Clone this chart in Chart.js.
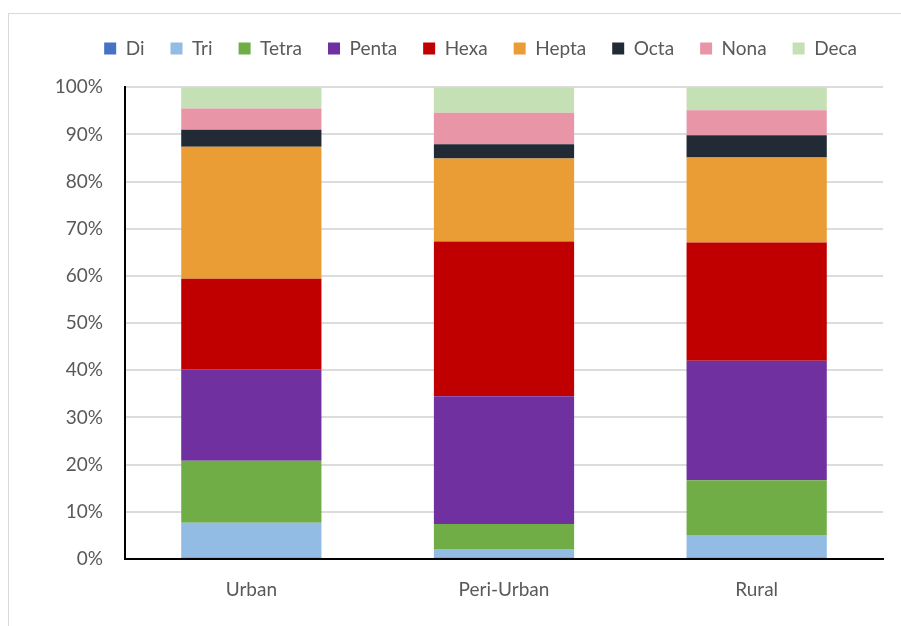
<!DOCTYPE html>
<html>
<head>
<meta charset="utf-8">
<script src="https://cdn.jsdelivr.net/npm/chart.js@4/dist/chart.umd.min.js"></script>
<style>
  html, body { margin: 0; padding: 0; background: #fff; }
  #wrap { position: relative; width: 901px; height: 626px; overflow: hidden; }
  #frame { position: absolute; left: 8px; top: 13px; width: 1000px; height: 1000px; border: 1px solid #d9d9d9; }
  #c { position: absolute; left: 0; top: 0; }
</style>
</head>
<body>
<div id="wrap">
  <div id="frame"></div>
  <canvas id="c" width="901" height="626"></canvas>
</div>
<script>
// categories and shares (%)
const categories = ["Urban", "Peri-Urban", "Rural"];
const di    = [0.3, 0.3, 0.3];
const tri   = [7.4, 1.8, 4.8];
const tetra = [13.1, 5.3, 11.6];
const penta = [19.4, 27.1, 25.3];
const hexa  = [19.2, 32.8, 25.1];
const hepta = [28.0, 17.6, 18.0];
const octa  = [3.6, 3.0, 4.7];
const nona  = [4.5, 6.7, 5.3];
const deca  = [4.5, 5.4, 4.9];
const yTicks = [0, 10, 20, 30, 40, 50, 60, 70, 80, 90, 100];

const series = [
  ["Di", di, "#4472C4"],
  ["Tri", tri, "#92BCE4"],
  ["Tetra", tetra, "#70AD47"],
  ["Penta", penta, "#7030A0"],
  ["Hexa", hexa, "#C00000"],
  ["Hepta", hepta, "#EA9D35"],
  ["Octa", octa, "#222A35"],
  ["Nona", nona, "#E895A7"],
  ["Deca", deca, "#C5E0B4"]
];

const FONT = "Lato, 'Open Sans', sans-serif";
const GREY = "#595959";

new Chart(document.getElementById("c"), {
  type: "bar",
  data: {
    labels: categories,
    datasets: series.map(([label, data, color]) => ({
      label, data, backgroundColor: color, borderWidth: 0,
      categoryPercentage: 1.0, barPercentage: 0.555
    }))
  },
  options: {
    responsive: false,
    animation: false,
    devicePixelRatio: 1,
    layout: { padding: { left: 0, right: 18, top: 13, bottom: 0 } },
    plugins: {
      legend: {
        position: "top",
        align: "end",
        labels: {
          boxWidth: 12, boxHeight: 12, padding: 26,
          color: GREY, font: { family: FONT, size: 19 }
        }
      },
      // empty subtitle used as a spacer between legend and plot
      subtitle: { display: true, text: "", position: "top", weight: 500, padding: 0, font: { size: 16 } },
      tooltip: { enabled: false }
    },
    scales: {
      x: {
        stacked: true,
        grid: { display: false, drawTicks: false },
        border: { color: "#000", width: 2 },
        ticks: { color: GREY, font: { family: FONT, size: 19 }, padding: 19 },
        afterFit: s => { s.height = 67; }
      },
      y: {
        stacked: true,
        min: 0, max: 100,
        afterBuildTicks: s => { s.ticks = yTicks.map(v => ({ value: v })); },
        grid: { color: "#dcdcdc", lineWidth: 2, drawTicks: false },
        border: { color: "#000", width: 2 },
        ticks: { color: GREY, font: { family: FONT, size: 19 }, padding: 22, callback: v => v + "%" },
        afterFit: s => { s.width = 125; }
      }
    }
  }
});
</script>
</body>
</html>
